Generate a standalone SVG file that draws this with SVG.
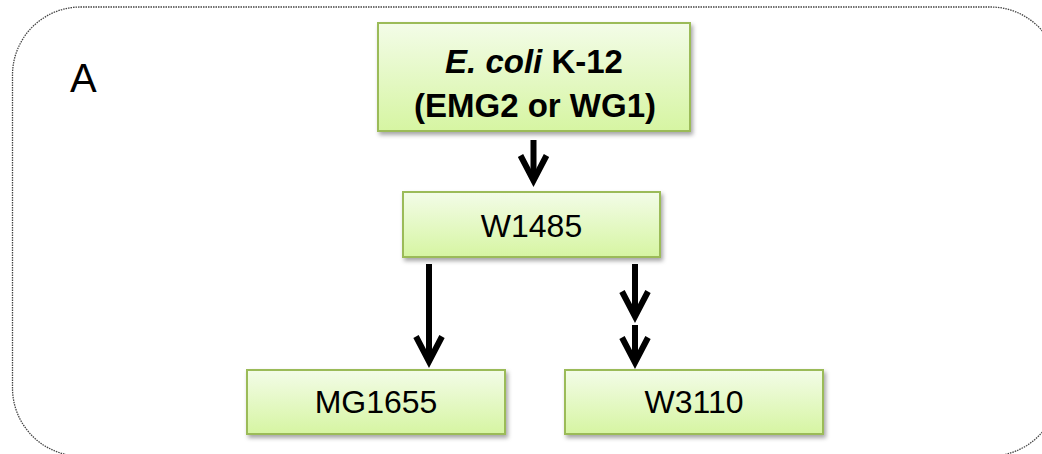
<svg xmlns="http://www.w3.org/2000/svg" width="1042" height="454" viewBox="0 0 1042 454">
<style>
.box{fill:url(#g);stroke:#9bbb59;stroke-width:2;filter:url(#sh)}
.t{font-family:"Liberation Sans",Arial,sans-serif;font-size:32px;fill:#000;text-anchor:middle}
.b{font-weight:bold;font-size:33px}
.c{fill:none;stroke:#000;stroke-width:6;marker-end:url(#ah)}
</style>
<defs>
<linearGradient id="g" x1="0" y1="0" x2="0" y2="1">
<stop offset="0" stop-color="#f3fce8"/>
<stop offset="1" stop-color="#d6f5a2"/>
</linearGradient>
<filter id="sh" x="-10%" y="-20%" width="130%" height="150%">
<feDropShadow dx="2" dy="3" stdDeviation="2" flood-color="#000" flood-opacity="0.35"/>
</filter>
<marker id="ah" markerUnits="userSpaceOnUse" orient="auto" refX="0" refY="0" markerWidth="40" markerHeight="40" overflow="visible">
<path d="M-24.5,-13 L0.5,0 L-24.5,13" fill="none" stroke="#000" stroke-width="6"/>
</marker>
</defs>
<rect x="12.5" y="7" width="1046" height="449" rx="68" ry="68" fill="#fff" stroke="#444" stroke-width="1.3" stroke-dasharray="1.5 1"/>
<text x="70" y="92" font-family="Liberation Sans,Arial,sans-serif" font-size="40">A</text>
<g id="connectors">
<path class="c" d="M533.5,140 V180"/>
<path class="c" d="M429,264 V361"/>
<path class="c" d="M635,264 V316"/>
<path class="c" d="M635,325 V362"/>
</g>
<g id="ecoli">
<rect class="box" x="378" y="23" width="312" height="108"/>
<text class="t b" x="534" y="73"><tspan font-style="italic">E. coli</tspan> K-12</text>
<text class="t b" x="535" y="117">(EMG2 or WG1)</text>
</g>
<g id="w1485">
<rect class="box" x="403" y="192" width="257" height="65"/>
<text class="t" x="531.5" y="237">W1485</text>
</g>
<g id="mg1655">
<rect class="box" x="247" y="370" width="258" height="64"/>
<text class="t" x="376" y="413">MG1655</text>
</g>
<g id="w3110">
<rect class="box" x="565" y="370" width="258" height="64"/>
<text class="t" x="694" y="413">W3110</text>
</g>
</svg>
